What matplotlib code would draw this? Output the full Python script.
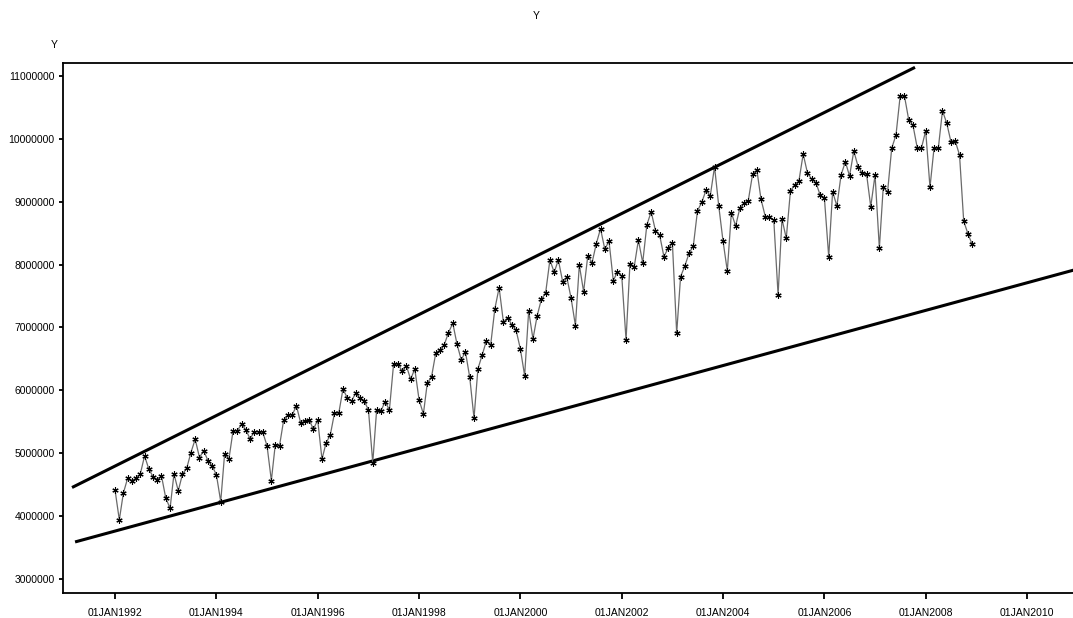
import datetime as dt
import numpy as np
import matplotlib
matplotlib.use("Agg")
import matplotlib.pyplot as plt
import matplotlib.dates as mdates
from matplotlib.ticker import FuncFormatter

plt.rcParams['font.family'] = ['Liberation Sans', 'DejaVu Sans']

# monthly values, Jan 1992 - Dec 2008 (millions)
y1992 = [4.417, 3.940, 4.365, 4.603, 4.560, 4.603, 4.667, 4.958, 4.746, 4.629, 4.576, 4.640]
y1993 = [4.285, 4.126, 4.672, 4.401, 4.667, 4.762, 5.010, 5.223, 4.931, 5.042, 4.883, 4.799]
y1994 = [4.656, 4.231, 4.990, 4.905, 5.360, 5.360, 5.462, 5.371, 5.228, 5.344, 5.335, 5.335]
y1995 = [5.117, 4.565, 5.133, 5.122, 5.530, 5.610, 5.610, 5.753, 5.478, 5.514, 5.530, 5.382]
y1996 = [5.530, 4.905, 5.160, 5.292, 5.637, 5.637, 6.018, 5.885, 5.832, 5.955, 5.875, 5.832]
y1997 = [5.689, 4.851, 5.689, 5.673, 5.821, 5.689, 6.416, 6.416, 6.309, 6.394, 6.177, 6.341]
y1998 = [5.848, 5.625, 6.114, 6.219, 6.591, 6.643, 6.723, 6.918, 7.068, 6.739, 6.484, 6.616]
y1999 = [6.209, 5.557, 6.341, 6.564, 6.786, 6.723, 7.295, 7.634, 7.084, 7.157, 7.041, 6.961]
y2000 = [6.659, 6.235, 7.263, 6.818, 7.184, 7.454, 7.545, 8.074, 7.879, 8.074, 7.729, 7.799]
y2001 = [7.465, 7.030, 7.995, 7.570, 8.138, 8.031, 8.329, 8.572, 8.244, 8.376, 7.745, 7.888]
y2002 = [7.820, 6.802, 8.011, 7.968, 8.392, 8.031, 8.631, 8.842, 8.540, 8.472, 8.127, 8.260]
y2003 = [8.349, 6.909, 7.809, 7.979, 8.181, 8.297, 8.858, 8.992, 9.187, 9.092, 9.558, 8.938]
y2004 = [8.376, 7.899, 8.826, 8.615, 8.896, 8.976, 9.017, 9.437, 9.505, 9.039, 8.763, 8.763]
y2005 = [8.710, 7.518, 8.726, 8.419, 9.171, 9.267, 9.330, 9.760, 9.453, 9.362, 9.303, 9.108]
y2006 = [9.055, 8.127, 9.160, 8.933, 9.426, 9.637, 9.410, 9.807, 9.558, 9.453, 9.437, 8.922]
y2007 = [9.426, 8.260, 9.230, 9.151, 9.850, 10.062, 10.682, 10.682, 10.300, 10.221, 9.860, 9.850]
y2008 = [10.130, 9.230, 9.850, 9.850, 10.448, 10.248, 9.955, 9.966, 9.744, 8.694, 8.488, 8.324]

years = list(range(1992, 2009))
series = [y1992, y1993, y1994, y1995, y1996, y1997, y1998, y1999, y2000,
          y2001, y2002, y2003, y2004, y2005, y2006, y2007, y2008]

# channel lines drawn over the series (start / end)
upper_dates = [dt.date(1991, 2, 25), dt.date(2007, 10, 16)]
upper_vals = [4.455, 11.138]
lower_dates = [dt.date(1991, 3, 19), dt.date(2010, 12, 31)]
lower_vals = [3.589, 7.93]

ytick_vals = [3, 4, 5, 6, 7, 8, 9, 10, 11]
xtick_years = [1992, 1994, 1996, 1998, 2000, 2002, 2004, 2006, 2008, 2010]

dates = [dt.date(yr, m, 1) for yr in years for m in range(1, 13)]
vals = np.array([v for yr in series for v in yr]) * 1e6

fig = plt.figure(figsize=(10.73, 6.18), dpi=100)
ax = fig.add_axes([63 / 1073, 1 - 592.5 / 618, 1 - 63 / 1073, (592.5 - 63) / 618])

ax.plot(dates, vals, color='#6a6a6a', lw=0.9, marker=(6, 2, 0), ms=4.5,
        mec='black', mew=0.8, zorder=3)
ax.plot(upper_dates, np.array(upper_vals) * 1e6, color='black', lw=2.2,
        solid_capstyle='butt', zorder=2)
ax.plot(lower_dates, np.array(lower_vals) * 1e6, color='black', lw=2.2,
        solid_capstyle='butt', zorder=2)

ax.set_xlim(dt.date(1990, 12, 22), dt.date(2010, 11, 28))
ax.set_ylim(2.785e6, 11.207e6)

ax.set_yticks([v * 1e6 for v in ytick_vals])
ax.yaxis.set_major_formatter(FuncFormatter(lambda v, p: '%d' % round(v)))
ax.set_xticks([mdates.date2num(dt.date(yr, 1, 1)) for yr in xtick_years])
ax.xaxis.set_major_formatter(FuncFormatter(
    lambda v, p: mdates.num2date(v).strftime('%d%b%Y').upper()))

ax.tick_params(direction='out', length=4, width=1.3, labelsize=7.5, colors='black')
ax.tick_params(axis='x', pad=7)
ax.tick_params(axis='y', length=3, pad=3)
for side in ['left', 'bottom', 'top']:
    ax.spines[side].set_linewidth(1.3)
ax.spines['right'].set_visible(False)

fig.text(0.5, 1 - 16 / 618, 'Y', ha='center', va='center', fontsize=7.5)
fig.text(54 / 1073, 1 - 45 / 618, 'Y', ha='center', va='center', fontsize=7.5)

fig.savefig('out.png', dpi=100)
